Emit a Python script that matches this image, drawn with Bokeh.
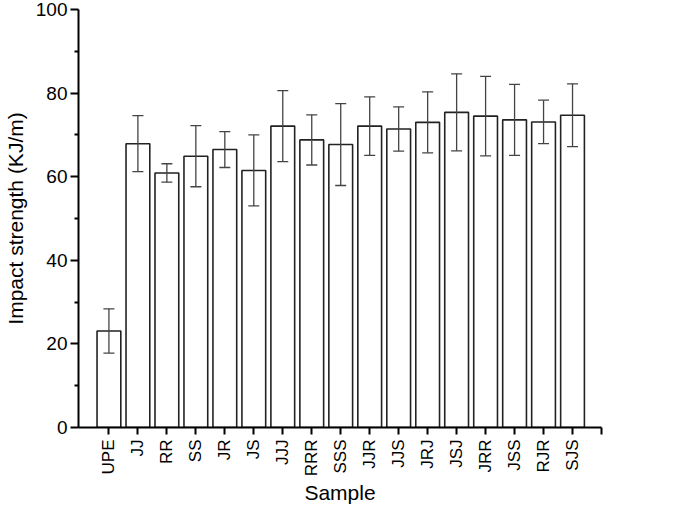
import math
from bokeh.plotting import figure
from bokeh.models import ColumnDataSource, Whisker, TeeHead, FixedTicker, Range1d
from bokeh.embed import file_html
from bokeh.resources import INLINE

samples = ["UPE", "JJ", "RR", "SS", "JR", "JS", "JJJ", "RRR", "SSS",
           "JJR", "JJS", "JRJ", "JSJ", "JRR", "JSS", "RJR", "SJS"]
means = [23.1, 67.9, 60.9, 64.9, 66.5, 61.5, 72.1, 68.8, 67.7,
         72.1, 71.4, 73.0, 75.4, 74.5, 73.6, 73.1, 74.7]
errors = [5.3, 6.7, 2.2, 7.3, 4.3, 8.5, 8.5, 6.0, 9.8,
          7.0, 5.3, 7.3, 9.2, 9.5, 8.5, 5.2, 7.5]

xs = list(range(len(samples)))
src = ColumnDataSource(dict(
    x=xs, top=means,
    upper=[m + e for m, e in zip(means, errors)],
    lower=[m - e for m, e in zip(means, errors)],
))

FONT = "Liberation Sans"

p = figure(width=670, height=507, output_backend="svg", toolbar_location=None,
           x_range=Range1d(-1.05, 17.0), y_range=Range1d(0, 100),
           min_border_left=72, min_border_right=69, min_border_top=9, min_border_bottom=78)
p.outline_line_color = None
p.xgrid.visible = False
p.ygrid.visible = False

p.vbar(x="x", top="top", width=0.82, bottom=0, source=src,
       fill_color="white", line_color="#222222", line_width=1.6)

w = Whisker(source=src, base="x", upper="upper", lower="lower",
            line_color="#444444", line_width=1.3, level="overlay",
            upper_head=TeeHead(size=11, line_color="#444444", line_width=1.3),
            lower_head=TeeHead(size=11, line_color="#444444", line_width=1.3))
p.add_layout(w)

# y axis
p.yaxis.ticker = FixedTicker(ticks=[0, 20, 40, 60, 80, 100],
                             minor_ticks=[10, 30, 50, 70, 90])
p.yaxis.axis_label = "Impact strength (KJ/m)"
p.yaxis.axis_label_text_font = FONT
p.yaxis.axis_label_text_font_style = "normal"
p.yaxis.axis_label_text_font_size = "21px"
p.yaxis.axis_label_text_color = "black"
p.yaxis.major_label_text_font = FONT
p.yaxis.major_label_text_font_size = "19px"
p.yaxis.major_label_text_color = "black"
p.yaxis.major_label_standoff = 3
p.yaxis.axis_line_width = 2
p.yaxis.axis_line_color = "black"
p.yaxis.major_tick_line_width = 2
p.yaxis.minor_tick_line_width = 2
p.yaxis.major_tick_out = 8
p.yaxis.major_tick_in = 0
p.yaxis.minor_tick_out = 4
p.yaxis.minor_tick_in = 0
p.yaxis.axis_label_standoff = 6

# x axis
p.xaxis.ticker = FixedTicker(ticks=xs + [17])
overrides = {i: s for i, s in enumerate(samples)}
overrides[17] = ""
p.xaxis.major_label_overrides = overrides
p.xaxis.major_label_orientation = math.pi / 2
p.xaxis.axis_label = "Sample"
p.xaxis.axis_label_text_font = FONT
p.xaxis.axis_label_text_font_style = "normal"
p.xaxis.axis_label_text_font_size = "21px"
p.xaxis.axis_label_text_color = "black"
p.xaxis.major_label_text_font = FONT
p.xaxis.major_label_text_font_size = "17px"
p.xaxis.major_label_text_color = "black"
p.xaxis.major_label_standoff = 5
p.xaxis.axis_line_width = 2
p.xaxis.axis_line_color = "black"
p.xaxis.major_tick_line_width = 2
p.xaxis.major_tick_out = 7
p.xaxis.major_tick_in = 0
p.xaxis.minor_tick_line_color = None
p.xaxis.axis_label_standoff = 2

open("out.html", "w").write(file_html(p, INLINE))
